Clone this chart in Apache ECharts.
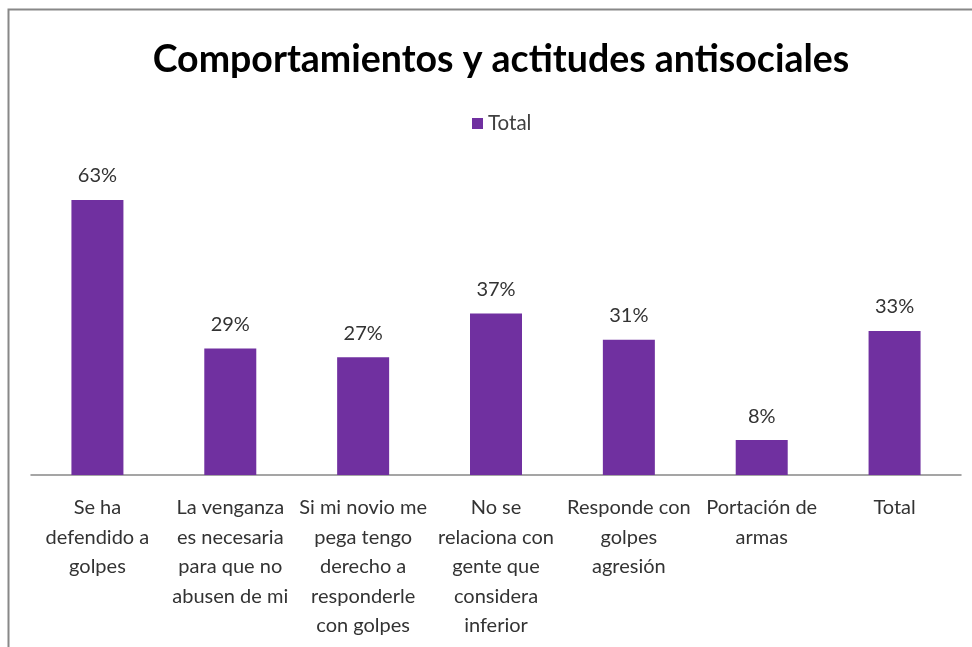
<!DOCTYPE html>
<html>
<head>
<meta charset="utf-8">
<script src="https://cdn.jsdelivr.net/npm/echarts@6/dist/echarts.min.js"></script>
<style>
  html, body { margin: 0; padding: 0; background: #ffffff; }
  #chart { width: 972px; height: 647px; }
</style>
</head>
<body>
<div id="chart"></div>
<script>
// Categories (wrapped as they appear under the axis)
const categories = [
  'Se ha\ndefendido a\ngolpes',
  'La venganza\nes necesaria\npara que no\nabusen de mi',
  'Si mi novio me\npega tengo\nderecho a\nresponderle\ncon golpes',
  'No se\nrelaciona con\ngente que\nconsidera\ninferior',
  'Responde con\ngolpes\nagresión',
  'Portación de\narmas',
  'Total'
];
// Percentage values per category
const totalValues = [63, 29, 27, 37, 31, 8, 33];
const seriesName = 'Total';
const titleText = 'Comportamientos y actitudes antisociales';

const FONT = 'Lato, "Open Sans", sans-serif';
const PURPLE = '#7030A0';

const chart = echarts.init(document.getElementById('chart'), null, { renderer: 'canvas' });

chart.setOption({
  backgroundColor: '#ffffff',
  animation: false,
  title: {
    text: titleText,
    left: 496,
    textAlign: 'center',
    top: 36,
    textStyle: { fontFamily: FONT, fontWeight: 'bold', fontSize: 37.5, color: '#000000' }
  },
  legend: {
    data: [seriesName],
    top: 108,
    left: 467,
    icon: 'rect',
    itemWidth: 11,
    itemHeight: 11,
    itemGap: 6,
    textStyle: { fontFamily: FONT, fontSize: 20.5, color: '#404040' }
  },
  grid: { left: 31, right: 11, top: 169.4, bottom: 172, containLabel: false },
  xAxis: {
    type: 'category',
    data: categories,
    axisLine: { lineStyle: { color: '#888888', width: 1.5 } },
    axisTick: { show: false },
    axisLabel: {
      interval: 0,
      margin: 18,
      fontFamily: FONT,
      fontSize: 20,
      lineHeight: 29.5,
      color: '#333333',
      align: 'center'
    }
  },
  yAxis: {
    type: 'value',
    min: 0,
    max: 70,
    show: false,
    splitLine: { show: false }
  },
  series: [{
    name: seriesName,
    type: 'bar',
    data: totalValues,
    barWidth: 52,
    itemStyle: { color: PURPLE },
    label: {
      show: true,
      position: 'top',
      distance: 14,
      formatter: '{c}%',
      fontFamily: FONT,
      fontSize: 20,
      color: '#333333'
    }
  }],
  graphic: [{
    type: 'polyline',
    shape: { points: [[8.5, 647], [8.5, 9.5], [972, 9.5]] },
    style: { stroke: '#888888', lineWidth: 2, fill: null },
    silent: true
  }]
});
</script>
</body>
</html>
